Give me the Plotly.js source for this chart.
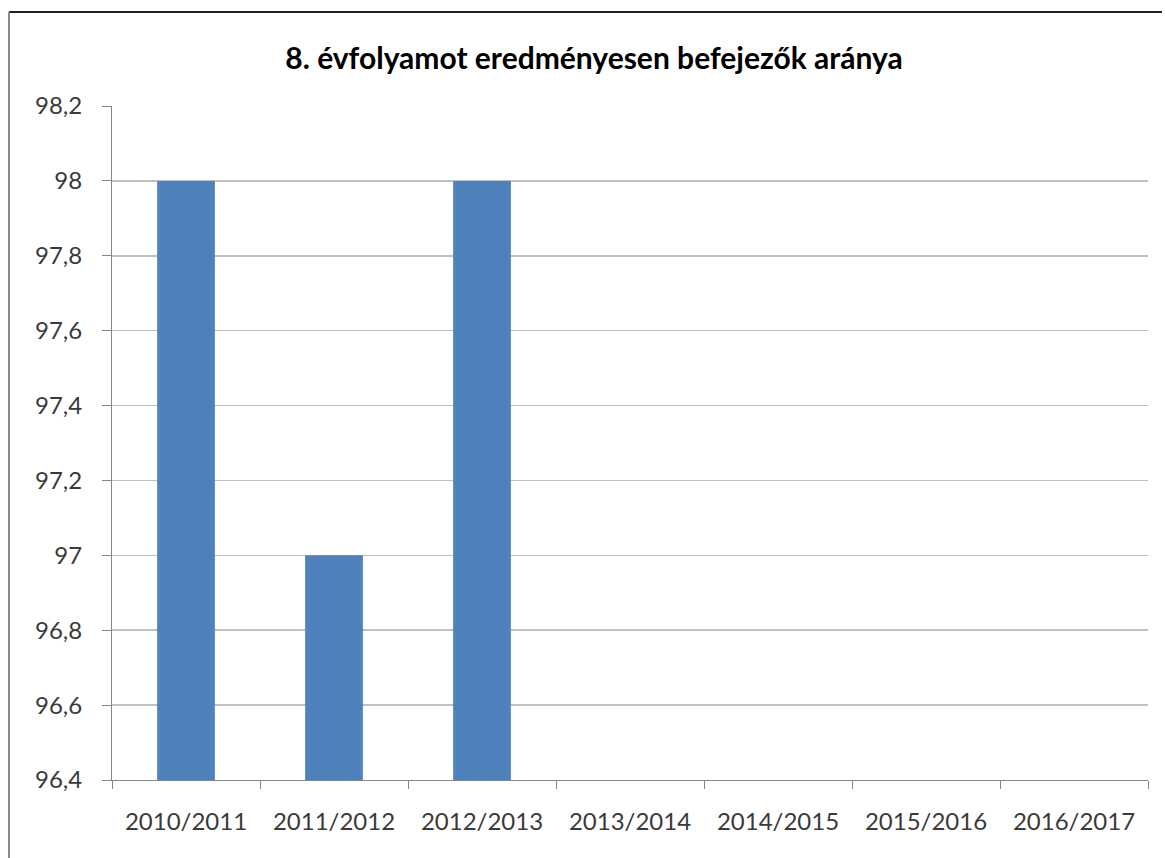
<!DOCTYPE html>
<html>
<head>
<meta charset="utf-8">
<script src="https://cdn.plot.ly/plotly-3.0.1.min.js"></script>
<style>
html,body{margin:0;padding:0;background:#fff;}
#chart{width:1165px;height:858px;}
</style>
</head>
<body>
<div id="chart"></div>
<script>
const categories = ["2010/2011","2011/2012","2012/2013","2013/2014","2014/2015","2015/2016","2016/2017"];
const values = [98, 97, 98, null, null, null, null];
const titleText = "8. évfolyamot eredményesen befejezők aránya";
const yTickVals = [96.4, 96.6, 96.8, 97, 97.2, 97.4, 97.6, 97.8, 98, 98.2];

const W = 1165, H = 858;
const margin = {l:112, r:17, t:106, b:78};
const pw = W - margin.l - margin.r, ph = H - margin.t - margin.b;
const px = x => (x - margin.l) / pw;
const py = y => (H - margin.b - y) / ph;

const font = "Lato, 'Open Sans', sans-serif";

Plotly.newPlot('chart', [{
  type: 'bar',
  x: categories,
  y: values,
  marker: {color: '#4F81BD', line: {width: 0}},
  hoverinfo: 'x+y'
}], {
  width: W, height: H,
  margin: margin,
  paper_bgcolor: '#fff', plot_bgcolor: '#fff',
  separators: ',.',
  bargap: 0.61,
  showlegend: false,
  title: {
    text: '<b>' + titleText + '</b>',
    font: {family: font, size: 30, color: '#000'},
    xref: 'container', x: 594 / W, xanchor: 'center',
    yref: 'container', y: 1 - 58 / H, yanchor: 'middle'
  },
  xaxis: {
    type: 'category',
    categoryorder: 'array', categoryarray: categories,
    range: [-0.5, categories.length - 0.5],
    showgrid: false,
    showline: true, linecolor: '#868686', linewidth: 1,
    ticks: 'outside', tickson: 'boundaries', ticklen: 8, tickcolor: '#868686', tickwidth: 1,
    tickfont: {family: font, size: 24, color: '#3a3a3a'},
    ticklabelstandoff: 20,
    fixedrange: true
  },
  yaxis: {
    range: [96.4, 98.2],
    tickvals: yTickVals,
    ticktext: yTickVals.map(v => String(v).replace('.', ',')),
    showgrid: true, gridcolor: '#c0c0c0', gridwidth: 1.5,
    zeroline: false,
    showline: true, linecolor: '#868686', linewidth: 1,
    ticks: 'outside', ticklen: 9, tickcolor: '#868686', tickwidth: 1,
    tickfont: {family: font, size: 24, color: '#3a3a3a'},
    ticklabelstandoff: 15,
    fixedrange: true
  },
  shapes: [
    {type: 'line', xref: 'paper', yref: 'paper',
     x0: px(9), x1: px(1162), y0: py(12), y1: py(12),
     line: {color: '#222', width: 2}},
    {type: 'line', xref: 'paper', yref: 'paper',
     x0: px(9), x1: px(9), y0: py(12), y1: py(858),
     line: {color: '#8a8a8a', width: 2}}
  ]
}, {displayModeBar: false, staticPlot: true});
</script>
</body>
</html>
